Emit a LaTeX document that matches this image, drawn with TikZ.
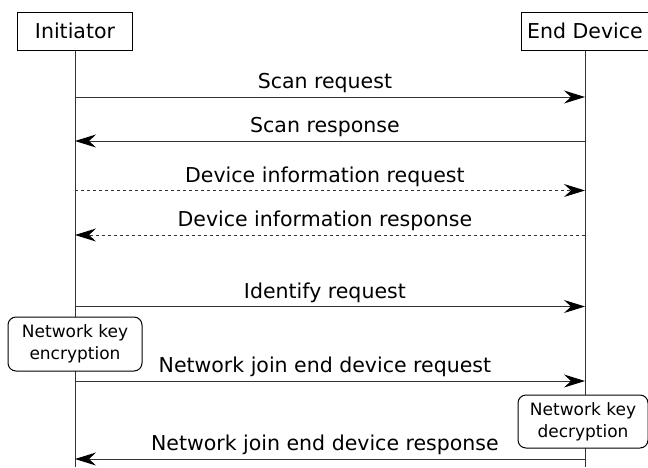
\documentclass[tikz,border=0pt]{standalone}
\usepackage{fontspec}
\setmainfont{DejaVu Sans}
\usetikzlibrary{arrows.meta}
\tikzset{
	party/.style={draw, line width=1pt, fill=white, minimum height=38pt, inner sep=0pt, font=\fontsize{20.5}{24}\selectfont},
	keybox/.style={draw, line width=1pt, fill=white, rounded corners=8pt, align=center, inner sep=0pt, font=\fontsize{17}{21.7}\selectfont},
	life/.style={line width=1pt, color=black!80},
	msg/.style={line width=1pt, color=black!80, -{Stealth[length=21pt, width=13pt, inset=7pt, color=black]}},
	msgdash/.style={msg, dash pattern=on 3pt off 3pt},
	lbl/.style={pos=0.49, anchor=base, yshift=8.5pt, text=black, font=\fontsize{20.5}{24}\selectfont}
}

\begin{document}
\begin{tikzpicture}[x=1pt, y=-1pt]
		%%%%% START %%%%%
		\useasboundingbox (0, 0) rectangle (648, 467);
		
		\node[party, minimum width=115pt] (ini) at (75, 31) {Initiator};
		\node[party, minimum width=127pt] (dev) at (585, 31) {End Device};
		
		\coordinate (ini-bot) at (75, 467);
		\coordinate (dev-bot) at (585, 467);
		\draw[life] (ini) -- (ini-bot);
		\draw[life] (dev) -- (dev-bot);
		
		\coordinate (ini-1) at (75, 97);    \coordinate (dev-1) at (585, 97);
		\coordinate (ini-2) at (75, 141);   \coordinate (dev-2) at (585, 141);
		\coordinate (ini-3) at (75, 190.5); \coordinate (dev-3) at (585, 190.5);
		\coordinate (ini-4) at (75, 235);   \coordinate (dev-4) at (585, 235);
		\coordinate (ini-5) at (75, 306.5); \coordinate (dev-5) at (585, 306.5);
		\coordinate (ini-6) at (75, 381);   \coordinate (dev-6) at (585, 381);
		\coordinate (ini-7) at (75, 459);   \coordinate (dev-7) at (585, 459);
		
		\draw[msg] (ini-1) -- node[lbl] {Scan request} (dev-1);
		\draw[msg] (dev-2) -- node[lbl, pos=0.51] {Scan response} (ini-2);
		\draw[msgdash] (ini-3) -- node[lbl] {Device information request} (dev-3);
		\draw[msgdash] (dev-4) -- node[lbl, pos=0.51] {Device information response} (ini-4);
		\draw[msg] (ini-5) -- node[lbl] {Identify request} (dev-5);
		\draw[msg] (ini-6) -- node[lbl] {Network join end device request} (dev-6);
		\draw[msg] (dev-7) -- node[lbl, pos=0.51] {Network join end device response} (ini-7);
		
		\node[keybox, minimum width=134pt, minimum height=54pt] (enc) at (75, 344) {Network key\\encryption};
		\node[keybox, minimum width=130pt, minimum height=53pt] (dec) at (583, 421.5) {Network key\\decryption};
		
		%%%%% END %%%%%
	\end{tikzpicture}
\end{document}
